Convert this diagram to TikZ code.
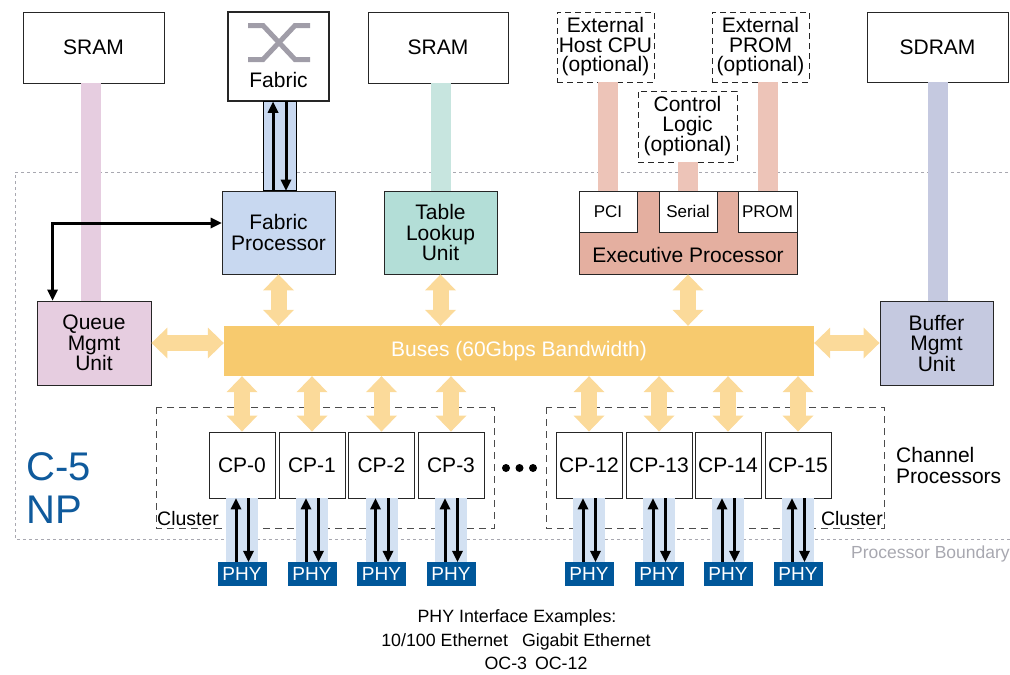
\documentclass[tikz,border=0pt]{standalone}
\usepackage{fontspec}
\setmainfont{Liberation Sans}
\usetikzlibrary{calc, arrows.meta}

\definecolor{queuepink}{HTML}{E6CDE0}
\definecolor{fabblue}{HTML}{C8D8F0}
\definecolor{lookupteal}{HTML}{B3DED7}
\definecolor{lookupbar}{HTML}{C7E5DF}
\definecolor{execsalmon}{HTML}{E4AFA0}
\definecolor{execbar}{HTML}{EDC4B8}
\definecolor{bufferlilac}{HTML}{C5C9E0}
\definecolor{busgold}{HTML}{F7CA6E}
\definecolor{busarrow}{HTML}{FBDA9A}
\definecolor{phyblue}{HTML}{00579A}
\definecolor{lanecol}{HTML}{D3E1F2}
\definecolor{npblue}{HTML}{0F5A9C}
\definecolor{boundgray}{HTML}{A8A8B0}
\definecolor{icongray}{HTML}{A09DA8}

\begin{document}
\begin{tikzpicture}[x=1pt, y=-1pt,
		unit/.style = {draw=black!85, line width=0.9pt, align=center, inner sep=0pt, font=\fontsize{21}{20.5}\selectfont},
		optional/.style = {unit, dash pattern=on 6pt off 4pt, font=\fontsize{21}{19.5}\selectfont},
		port/.style = {unit, fill=white, minimum width=58pt, minimum height=41pt, font=\fontsize{17}{17}\selectfont},
		phy/.style = {fill=phyblue, text=white, minimum width=49pt, minimum height=24pt, inner sep=0pt, font=\fontsize{19}{19}\selectfont},
		bar/.style = {line width=20pt},
		bus/.style = {draw=busarrow, line width=16pt, {Triangle[width=31pt, length=16pt, line width=0pt]}-{Triangle[width=31pt, length=16pt, line width=0pt]}},
		wire/.style = {line width=3pt, -{Triangle[width=11pt, length=11pt, line width=0pt]}},
		lane/.style = {draw=lanecol, line width=32pt}
	]
	\useasboundingbox (0,0) rectangle (1010,675);
	
	% processor boundary and clusters
	\draw[boundgray, line width=1pt, dash pattern=on 3pt off 3pt] (1014,172) -- (15,172) -- (15,539) -- (1014,539);
	\begin{scope}[black!70, line width=1pt, dash pattern=on 7pt off 5pt]
		\draw (156,407) rectangle (494,528);
		\draw (546,407) rectangle (884,528);
	\end{scope}
	
	% memories and external parts
	\node[unit, minimum width=141pt, minimum height=71pt] (left sram) at (93.5,47.5) {SRAM};
	\node[unit, line width=1.5pt, minimum width=101pt, minimum height=89pt] (fabric) at (278.5,56.5) {};
	\node[font=\fontsize{21}{21}\selectfont] (fabric label) at (278.5,80) {Fabric};
	\node[unit, minimum width=140pt, minimum height=71pt] (mid sram) at (438,47.5) {SRAM};
	\node[optional, minimum width=97pt, minimum height=70pt] (host cpu) at (605.5,47) {External\\Host CPU\\(optional)};
	\node[optional, minimum width=97pt, minimum height=70pt] (ext prom) at (760.5,47) {External\\PROM\\(optional)};
	\node[optional, minimum width=99pt, minimum height=71pt] (control logic) at (687.5,126.5) {Control\\Logic\\(optional)};
	\node[unit, minimum width=141pt, minimum height=70pt] (sdram) at (937.5,47) {SDRAM};
	
	\draw[icongray, line width=5pt] (248,25.5) -- (263,25.5) -- (295,59.5) -- (310,59.5);
	\draw[icongray, line width=5pt] (248,59.5) -- (263,59.5) -- (295,25.5) -- (310,25.5);
	
	% processing units
	\node[unit, fill=fabblue, minimum width=113pt, minimum height=83pt] (fabric processor) at (278.5,232.5) {Fabric\\Processor};
	\node[unit, fill=lookupteal, minimum width=113pt, minimum height=83pt] (table lookup) at (440.5,232.5) {Table\\Lookup\\Unit};
	\node[unit, fill=execsalmon, minimum width=218pt, minimum height=83pt] (executive) at (688,232.5) {};
	\node[font=\fontsize{21}{21}\selectfont] (executive label) at (688,255) {Executive Processor};
	\node[port] (pci) at (608,211.5) {PCI};
	\node[port] (serial) at (688,211.5) {Serial};
	\node[port, minimum width=59pt] (prom port) at (767.5,211.5) {PROM};
	\node[unit, fill=queuepink, minimum width=114pt, minimum height=84pt] (queue unit) at (94,343) {Queue\\Mgmt\\Unit};
	\node[unit, fill=bufferlilac, minimum width=113pt, minimum height=84pt] (buffer unit) at (936.5,343) {Buffer\\Mgmt\\Unit};
	\node[fill=busgold, text=white, minimum width=590pt, minimum height=50pt, inner sep=0pt, font=\fontsize{21}{21}\selectfont] (buses) at (519,351) {Buses (60Gbps Bandwidth)};
	
	\foreach \n/\x in {0/242, 1/312, 2/381.5, 3/451, 12/589, 13/659, 14/728, 15/798} {
		\node[unit, minimum width=66pt, minimum height=66pt] (cp \n) at (\x,465) {CP-\n};
		\node[phy] (phy \n) at (\x,574) {PHY};
	}
	
	% memory bars
	\draw[bar, queuepink] ([xshift=-3pt]left sram.south) -- ([xshift=-3pt]left sram.south |- queue unit.north);
	\draw[bar, lookupbar] (table lookup.north |- mid sram.south) -- (table lookup.north);
	\draw[bar, execbar] (pci.north |- host cpu.south) -- (pci.north);
	\draw[bar, execbar] (serial.north |- control logic.south) -- (serial.north);
	\draw[bar, execbar] (prom port.north |- ext prom.south) -- (prom port.north);
	\draw[bar, bufferlilac] (sdram.south) -- (sdram.south |- buffer unit.north);
	
	% fabric link
	\draw[black, line width=0.8pt, fill=fabblue] ([xshift=-15.5pt]fabric.south) rectangle ([xshift=17.5pt]fabric.south |- fabric processor.north);
	\draw[wire] ([xshift=-5.5pt]fabric.south |- fabric processor.north) -- ([xshift=-5.5pt]fabric.south);
	\draw[wire] ([xshift=7.5pt]fabric.south) -- ([xshift=7.5pt]fabric.south |- fabric processor.north);
	
	% bus arrows
	\begin{scope}[bus]
		\draw (fabric processor.south) -- (fabric processor.south |- buses.north);
		\draw (table lookup.south) -- (table lookup.south |- buses.north);
		\draw (executive.south) -- (executive.south |- buses.north);
		\draw (queue unit.east) -- (queue unit.east -| buses.west);
		\draw (buses.east |- buffer unit.west) -- (buffer unit.west);
		\foreach \n in {0, 1, 2, 3, 12, 13, 14, 15}
			\draw (cp \n.north |- buses.south) -- (cp \n.north);
	\end{scope}
	
	% phy lanes
	\foreach \n in {0, 1, 2, 3, 12, 13, 14, 15} {
		\draw[lane] (cp \n.south) -- (phy \n.north);
		\draw[wire] ([xshift=-6pt]phy \n.north) -- ([xshift=-6pt]cp \n.south);
		\draw[wire] ([xshift=6.5pt]cp \n.south) -- ([xshift=6.5pt]phy \n.north);
	}
	
	% queue link
	\coordinate (queue in) at ([xshift=16pt]queue unit.north west);
	\coordinate (fabric in) at ([yshift=9.5pt]fabric processor.west);
	\draw[wire, {Triangle[width=11pt, length=11pt, line width=0pt]}-{Triangle[width=11pt, length=11pt, line width=0pt]}] (queue in) |- (fabric in);
	
	\foreach \x in {506, 519.5, 533}
		\fill (\x,468) circle [radius=4pt];
	
	% labels
	\node[anchor=north west, align=left, text=npblue, inner sep=0pt, font=\fontsize{40}{43}\selectfont] (chip name) at (26,452) {C-5\\NP};
	\node[anchor=west, align=left, inner sep=0pt, font=\fontsize{21}{21}\selectfont] (channel label) at (896,465) {Channel\\Processors};
	\node[anchor=south west, inner sep=1pt, font=\fontsize{19.5}{19.5}\selectfont] (left cluster) at (156,527) {Cluster};
	\node[anchor=south east, inner sep=1pt, font=\fontsize{19.5}{19.5}\selectfont] (right cluster) at (884,527) {Cluster};
	\node[anchor=west, inner sep=0pt, text=boundgray, font=\fontsize{17.5}{17.5}\selectfont] (boundary label) at (851,554) {Processor Boundary};
	\begin{scope}[font=\fontsize{17.8}{17.8}\selectfont]
		\node (phy title) at (517,618) {PHY Interface Examples:};
		\node (phy line one) at (516,642) {10/100 Ethernet\hspace{14pt}Gigabit Ethernet};
		\node (phy line two) at (536,663) {OC-3\hspace{3pt} OC-12};
	\end{scope}
\end{tikzpicture}
\end{document}
